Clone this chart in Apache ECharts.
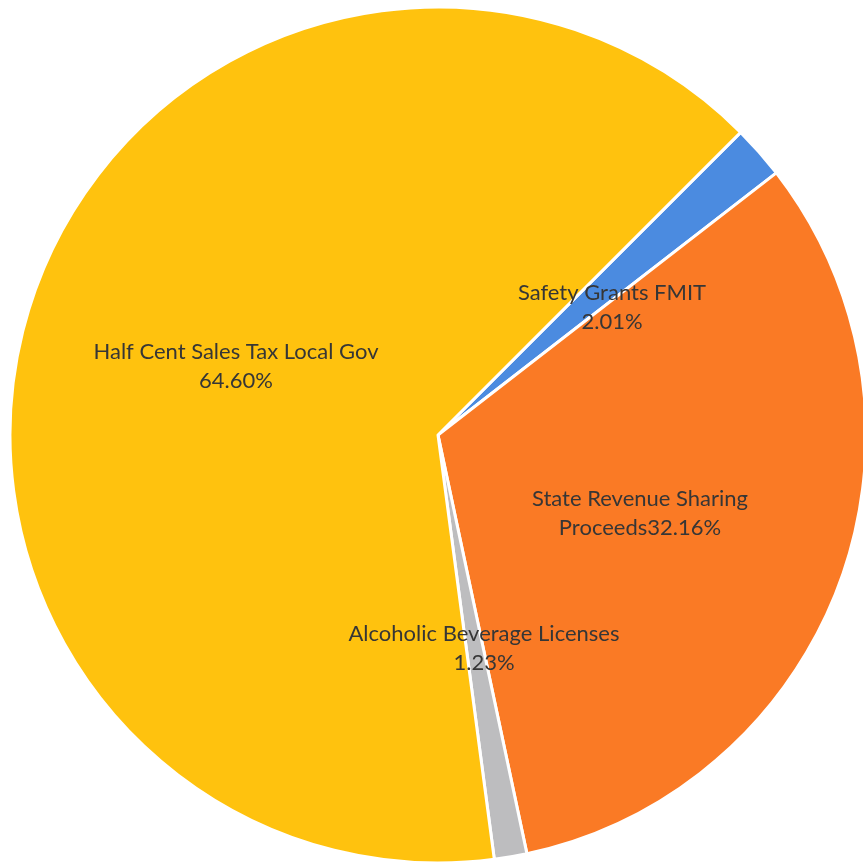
<!DOCTYPE html>
<html><head><meta charset="utf-8">
<script src="https://cdn.jsdelivr.net/npm/echarts@6/dist/echarts.min.js"></script>
<style>html,body{margin:0;padding:0;background:#fff}#c{width:863px;height:867px}</style>
</head><body><div id="c"></div>
<script>
const categories = ['Safety Grants FMIT', 'State Revenue Sharing Proceeds', 'Alcoholic Beverage Licenses', 'Half Cent Sales Tax Local Gov'];
const values = [2.01, 32.16, 1.23, 64.60];
const labelTexts = ['Safety Grants FMIT\n2.01%', 'State Revenue Sharing\nProceeds32.16%', 'Alcoholic Beverage Licenses\n1.23%', 'Half Cent Sales Tax Local Gov\n64.60%'];
const colors = ['#4B8BE0', '#FA7A25', '#BDBDBF', '#FFC20E'];
// label anchor positions (layout only)
const labelPos = [[612, 307], [640, 513], [484, 648], [236, 366]];

const chart = echarts.init(document.getElementById('c'));
chart.setOption({
  animation: false,
  series: [{
    type: 'pie',
    center: [438, 435],
    radius: 428,
    startAngle: 45,
    clockwise: true,
    data: categories.map((n, i) => ({name: n, value: values[i], itemStyle: {color: colors[i]}})),
    itemStyle: {borderColor: '#ffffff', borderWidth: 3},
    label: {
      show: true,
      position: 'inside',
      formatter: p => labelTexts[p.dataIndex],
      fontFamily: 'Lato',
      fontSize: 22,
      lineHeight: 29,
      color: '#363636',
      align: 'center'
    },
    labelLine: {show: false},
    labelLayout: p => ({x: labelPos[p.dataIndex][0], y: labelPos[p.dataIndex][1], align: 'center', verticalAlign: 'middle'}),
    emphasis: {disabled: true}
  }]
});
</script></body></html>
